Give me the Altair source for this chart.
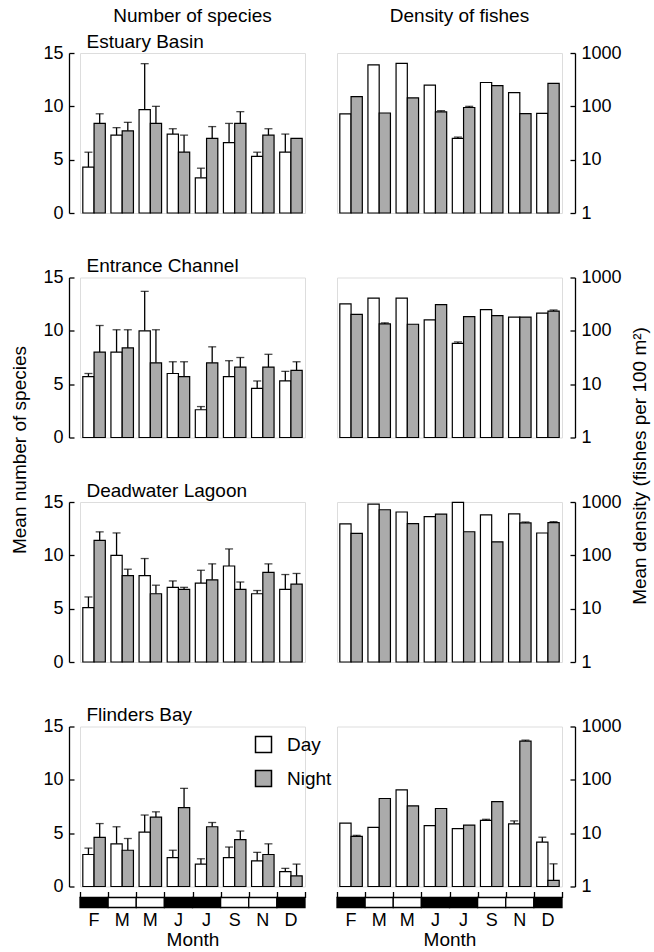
import altair as alt
import pandas as pd

FONT = "Liberation Sans"
GRAY = "#ababab"

month_keys = ["Feb", "Mar", "May", "Jun", "Jul", "Sep", "Nov", "Dec"]
month_labels = ["F", "M", "M", "J", "J", "S", "N", "D"]
dark_months = [True, False, False, True, True, False, False, True]
periods = ["Day", "Night"]
sites = ["Estuary Basin", "Entrance Channel", "Deadwater Lagoon", "Flinders Bay"]

species_ticks = [0, 5, 10, 15]
density_ticks = [1, 10, 100, 1000]

species_day = [
    [4.3, 7.3, 9.7, 7.4, 3.3, 6.6, 5.3, 5.7],
    [5.7, 8.0, 10.0, 6.0, 2.6, 5.7, 4.6, 5.3],
    [5.1, 10.0, 8.1, 7.0, 7.4, 9.0, 6.4, 6.8],
    [3.0, 4.0, 5.1, 2.7, 2.1, 2.7, 2.4, 1.4],
]
species_day_hi = [
    [5.7, 8.0, 14.0, 7.9, 4.2, 8.4, 5.7, 7.4],
    [6.0, 10.1, 13.7, 7.1, 2.9, 7.2, 5.3, 6.2],
    [6.1, 12.1, 9.7, 7.6, 8.6, 10.6, 6.7, 8.2],
    [3.6, 5.6, 6.7, 3.4, 2.6, 3.7, 3.2, 1.7],
]
species_night = [
    [8.4, 7.7, 8.4, 5.7, 7.0, 8.4, 7.3, 7.0],
    [8.0, 8.4, 7.0, 5.7, 7.0, 6.6, 6.6, 6.3],
    [11.4, 8.1, 6.4, 6.8, 7.7, 6.8, 8.4, 7.3],
    [4.6, 3.4, 6.5, 7.4, 5.6, 4.4, 3.0, 1.0],
]
species_night_hi = [
    [9.3, 8.5, 10.0, 7.3, 8.1, 9.5, 7.9, 7.0],
    [10.5, 10.1, 10.1, 7.1, 8.5, 7.5, 7.8, 7.1],
    [12.2, 8.7, 7.2, 7.0, 9.2, 7.5, 9.2, 8.3],
    [5.9, 4.5, 7.0, 9.2, 6.0, 5.2, 4.0, 2.1],
]

density_day = [
    [72, 600, 640, 250, 25, 280, 180, 74],
    [320, 410, 410, 160, 58, 250, 180, 215],
    [390, 910, 650, 530, 980, 575, 600, 262],
    [15.4, 12.8, 65, 13.9, 12.2, 17.3, 15, 6.8],
]
density_day_hi = [
    [72, 600, 640, 250, 26.5, 280, 180, 74],
    [320, 410, 410, 160, 62, 250, 180, 215],
    [390, 910, 650, 530, 980, 575, 600, 262],
    [15.4, 12.8, 65, 13.9, 12.2, 18.2, 17, 8.4],
]
density_night = [
    [152, 75, 144, 79, 95, 244, 73, 270],
    [203, 135, 133, 310, 184, 192, 181, 235],
    [258, 715, 394, 590, 277, 179, 405, 411],
    [8.7, 44.7, 32.5, 29, 14.1, 39, 531, 1.3],
]
density_night_hi = [
    [152, 75, 144, 83, 100, 244, 73, 270],
    [203, 141, 133, 310, 184, 192, 181, 246],
    [258, 715, 394, 590, 277, 179, 422, 428],
    [9.1, 44.7, 32.5, 29, 14.1, 39, 555, 2.66],
]

W, H = 225, 160
ROW_GAP = 64.5

key_list = "[" + ",".join("'%s'" % k for k in month_keys) + "]"
lab_list = "[" + ",".join("'%s'" % k for k in month_labels) + "]"
LABEL_EXPR = "%s[indexof(%s, datum.value)]" % (lab_list, key_list)

fill_enc = alt.Fill(
    "period:N",
    scale=alt.Scale(domain=periods, range=["white", GRAY]),
    legend=alt.Legend(
        orient="none", legendX=174, legendY=682, title=None,
        symbolType="square", symbolSize=256, symbolStrokeColor="black",
        symbolStrokeWidth=1.5, labelFontSize=19, labelFont=FONT,
        labelColor="black", labelOffset=14, rowPadding=11, padding=0,
    ),
)


def frame(vd, hd, vn, hn):
    rows = []
    for i, m in enumerate(month_keys):
        rows.append({"month": m, "period": "Day", "value": vd[i], "hi": hd[i]})
        rows.append({"month": m, "period": "Night", "value": vn[i], "hi": hn[i]})
    return pd.DataFrame(rows)


def panel(df, kind, row):
    left = kind == "species"
    bottom = row == 3
    xs = alt.Scale(domain=month_keys, paddingInner=0, paddingOuter=0)
    xo = alt.XOffset("period:N", scale=alt.Scale(domain=periods, paddingInner=0, paddingOuter=0.25))
    if left:
        ys = alt.Scale(domain=[0, 15], nice=False)
        vals = species_ticks
        orient = "left"
        offA, offB = 6, 11
    else:
        ys = alt.Scale(type="log", domain=[1, 1000], nice=False)
        vals = density_ticks
        orient = "right"
        offA, offB = 8, 13
    axisA = alt.Axis(orient=orient, offset=offA, values=vals, labels=False, domain=False,
                     ticks=True, tickSize=5, tickWidth=1.3, tickColor="black", title=None, grid=False)
    kb = dict(orient=orient, offset=offB, values=vals, format="d", labels=True, domain=True,
              domainColor="black", domainWidth=1.3, ticks=False, tickSize=0, labelPadding=6,
              labelFont=FONT, labelFontSize=18, labelColor="black", grid=False, title=None)
    if row == 1 and left:
        kb.update(title="Mean number of species", titleY=172, titleX=-50, titleAngle=270,
                  titleBaseline="middle", titleAlign="center", titleFont=FONT, titleFontSize=19,
                  titleFontWeight="normal", titleColor="black")
    if row == 1 and not left:
        kb.update(title="Mean density (fishes per 100 m²)", titleY=188, titleX=64, titleAngle=270,
                  titleBaseline="middle", titleAlign="center", titleFont=FONT, titleFontSize=19,
                  titleFontWeight="normal", titleColor="black")
    axisB = alt.Axis(**kb)

    if left:
        xA = alt.Axis(orient="top", labels=False, ticks=False, domain=False, title=sites[row],
                      titleX=6, titleY=-6, titleAlign="left", titleBaseline="alphabetic",
                      titleFont=FONT, titleFontSize=19, titleFontWeight="normal", titleColor="black")
    else:
        xA = None
    if bottom:
        xB = alt.Axis(orient="bottom", offset=21, labelPadding=4, ticks=False, tickSize=0,
                      domain=False, labelExpr=LABEL_EXPR, labelAngle=0, labelFont=FONT,
                      labelFontSize=18, labelColor="black", title="Month", titleFont=FONT,
                      titleFontSize=19, titleFontWeight="normal", titleColor="black", titlePadding=1)
    else:
        xB = None

    base = alt.Chart(df)
    benc = dict(
        x=alt.X("month:N", scale=xs, axis=xA),
        xOffset=xo,
        y=alt.Y("value:Q", scale=ys, axis=axisA),
        fill=fill_enc,
    )
    if not left:
        benc["y2"] = alt.datum(1)
    bars = base.mark_bar(stroke="black", strokeWidth=1.2).encode(**benc)
    errs = base.transform_filter("datum.hi > datum.value")
    rule = errs.mark_rule(color="black", strokeWidth=1.3).encode(
        x=alt.X("month:N", scale=xs, axis=xB),
        xOffset=xo,
        y=alt.Y("value:Q", scale=ys, axis=axisB),
        y2="hi:Q",
    )
    cap = errs.mark_tick(color="black", thickness=1.3, size=8).encode(
        x=alt.X("month:N", scale=xs, axis=None),
        xOffset=xo,
        y=alt.Y("hi:Q", scale=ys, axis=None),
    )
    layers = [rule, cap, bars]
    if bottom:
        band_df = pd.DataFrame({"month": month_keys, "dark": dark_months})
        band = alt.Chart(band_df).mark_rect(stroke="black", strokeWidth=1.3).encode(
            x=alt.X("month:N", scale=xs,
                    axis=alt.Axis(orient="bottom", offset=5, tickBand="extent", ticks=True,
                                  tickSize=6, tickWidth=1.3, tickColor="black", labels=False,
                                  domain=False, title=None)),
            y=alt.value(H + 11),
            y2=alt.value(H + 21),
            fill=alt.condition("datum.dark", alt.value("black"), alt.value("white")),
        )
        layers.append(band)
    ch = alt.layer(*layers).resolve_axis(x="independent", y="independent").properties(width=W, height=H)
    if row == 0:
        if left:
            t = alt.TitleParams("Number of species", anchor="middle", frame="group", offset=-9,
                                baseline="alphabetic", font=FONT, fontSize=19, fontWeight="normal", color="black")
        else:
            t = alt.TitleParams("Density of fishes", anchor="middle", frame="group", offset=3, dx=10,
                                baseline="alphabetic", font=FONT, fontSize=19, fontWeight="normal", color="black")
        ch = ch.properties(title=t)
    return ch


cells = []
for r in range(4):
    sp = frame(species_day[r], species_day_hi[r], species_night[r], species_night_hi[r])
    de = frame(density_day[r], density_day_hi[r], density_night[r], density_night_hi[r])
    cells.append(panel(sp, "species", r))
    cells.append(panel(de, "density", r))

chart = alt.concat(*cells, columns=2, spacing={"row": ROW_GAP, "column": 32}, bounds="flush").properties(
    padding={"left": 9, "top": 6, "right": 4, "bottom": 2}
).configure_view(stroke=None).configure(font=FONT)

chart.save("out.html", embed_options={"renderer": "svg", "actions": False})
